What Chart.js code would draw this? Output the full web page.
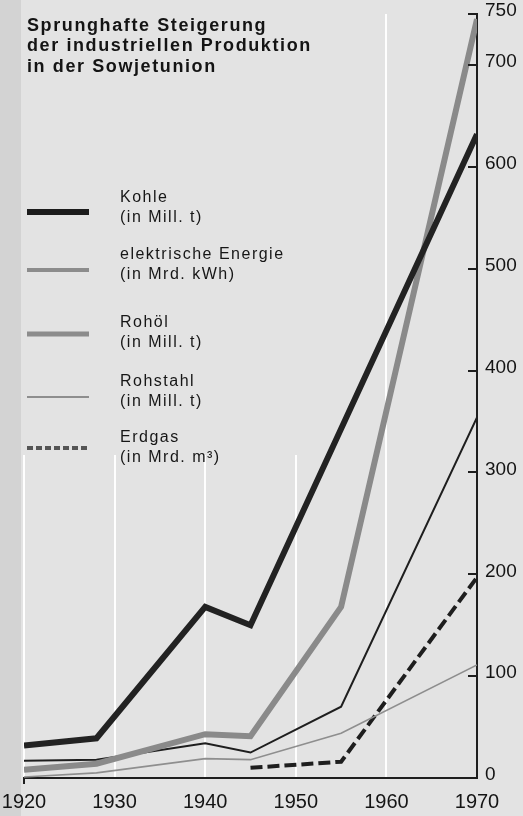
<!DOCTYPE html>
<html>
<head>
<meta charset="utf-8">
<script src="https://cdn.jsdelivr.net/npm/chart.js@4"></script>
<style>
  html, body { margin: 0; padding: 0; background: #e3e3e3; }
  canvas { display: block; }
</style>
</head>
<body>
<canvas id="c" width="523" height="816"></canvas>
<script>
// ---- data ----
const titleLines = ['Sprunghafte Steigerung', 'der industriellen Produktion', 'in der Sowjetunion'];
const seriesNames = ['Kohle', 'elektrische Energie', 'Rohöl', 'Rohstahl', 'Erdgas'];
const seriesUnits = ['(in Mill. t)', '(in Mrd. kWh)', '(in Mill. t)', '(in Mill. t)', '(in Mrd. m³)'];
const yearsKohle = [1920, 1928, 1940, 1945, 1970];
const kohle = [32, 39, 168, 150, 632];
const yearsMain = [1920, 1928, 1940, 1945, 1955, 1970];
const energie = [8, 14, 43, 41, 168, 745];
const rohoel = [17, 18, 34, 25, 70, 354];
const rohstahl = [1, 5, 19, 18, 44, 111];
const yearsGas = [1945, 1955, 1970];
const erdgas = [10, 16, 197];
const yTickValues = [0, 100, 200, 300, 400, 500, 600, 700, 750];

// ---- styles ----
const INK = '#1e1e1e';
const GREY = '#8a8a8a';
const BG = '#e3e3e3';
const lineStyles = [
  { color: '#222222', width: 6, dash: [] },
  { color: GREY, width: 6, dash: [] },
  { color: INK, width: 2, dash: [] },
  { color: '#8e8e8e', width: 1.6, dash: [] },
  { color: INK, width: 4, dash: [12, 5] }
];
const legendStyles = [
  { color: '#1c1c1c', width: 6, dash: [] },
  { color: '#8c8c8c', width: 4, dash: [] },
  { color: '#8c8c8c', width: 5, dash: [] },
  { color: '#8e8e8e', width: 2, dash: [] },
  { color: '#555555', width: 4, dash: [6, 3] }
];
const legendRows = [
  { swatch: 212, text: 198 },
  { swatch: 270, text: 255 },
  { swatch: 334, text: 323 },
  { swatch: 397, text: 382 },
  { swatch: 448, text: 438 }
];

function pts(xs, ys) { return xs.map((x, i) => ({ x: x, y: ys[i] })); }
const seriesData = [
  pts(yearsKohle, kohle),
  pts(yearsMain, energie),
  pts(yearsMain, rohoel),
  pts(yearsMain, rohstahl),
  pts(yearsGas, erdgas)
];

const datasets = seriesNames.map((name, i) => ({
  label: name,
  data: seriesData[i],
  borderColor: lineStyles[i].color,
  borderWidth: lineStyles[i].width,
  borderDash: lineStyles[i].dash,
  borderCapStyle: 'butt',
  borderJoinStyle: 'miter',
  pointRadius: 0,
  tension: 0,
  fill: false
}));

const backgroundPlugin = {
  id: 'paper',
  beforeDraw(chart) {
    const ctx = chart.ctx;
    ctx.save();
    ctx.fillStyle = BG;
    ctx.fillRect(0, 0, chart.width, chart.height);
    ctx.fillStyle = '#d3d3d3';
    ctx.fillRect(0, 0, 21, chart.height);
    ctx.restore();
  },
  beforeDatasetsDraw(chart) {
    // blurred panel behind title and legend (covers grid lines)
    const ctx = chart.ctx;
    ctx.save();
    ctx.fillStyle = BG;
    ctx.fillRect(21, 0, 301, 455);
    ctx.restore();
  }
};

const overlayPlugin = {
  id: 'overlay',
  afterDraw(chart) {
    const ctx = chart.ctx;
    const ys = chart.scales.y;
    const xs = chart.scales.x;
    const area = chart.chartArea;
    ctx.save();
    // inward tick marks on the right axis
    ctx.strokeStyle = INK;
    ctx.lineWidth = 2;
    ys.ticks.forEach(t => {
      const y = Math.round(ys.getPixelForValue(t.value));
      ctx.beginPath();
      ctx.moveTo(area.right - 9, y);
      ctx.lineTo(area.right, y);
      ctx.stroke();
    });
    // small tick below the axis at the first year
    const x0 = xs.getPixelForValue(xs.min);
    ctx.beginPath();
    ctx.moveTo(x0, area.bottom);
    ctx.lineTo(x0, area.bottom + 6);
    ctx.stroke();
    // title
    ctx.fillStyle = '#141414';
    ctx.textBaseline = 'middle';
    ctx.textAlign = 'left';
    ctx.font = 'bold 18px "Liberation Sans", Arial, sans-serif';
    if ('letterSpacing' in ctx) ctx.letterSpacing = '1.6px';
    titleLines.forEach((line, i) => ctx.fillText(line, 27, 26 + i * 20.5));
    // legend
    ctx.font = '16px "Liberation Sans", Arial, sans-serif';
    if ('letterSpacing' in ctx) ctx.letterSpacing = '1.5px';
    chart.data.datasets.forEach((ds, i) => {
      const st = legendStyles[i];
      const row = legendRows[i];
      ctx.strokeStyle = st.color;
      ctx.lineWidth = st.width;
      ctx.setLineDash(st.dash);
      ctx.beginPath();
      ctx.moveTo(27, row.swatch);
      ctx.lineTo(89, row.swatch);
      ctx.stroke();
      ctx.setLineDash([]);
      ctx.fillStyle = '#161616';
      ctx.fillText(ds.label, 120, row.text);
      ctx.fillText(seriesUnits[i], 120, row.text + 20);
    });
    ctx.restore();
  }
};

new Chart(document.getElementById('c'), {
  type: 'line',
  data: { datasets: datasets },
  plugins: [backgroundPlugin, overlayPlugin],
  options: {
    responsive: false,
    animation: false,
    layout: { padding: { left: 24, top: 14, right: 0, bottom: 0 } },
    plugins: { legend: { display: false }, title: { display: false }, tooltip: { enabled: false } },
    scales: {
      x: {
        type: 'linear',
        min: 1920,
        max: 1970,
        ticks: {
          stepSize: 10,
          padding: 12,
          color: '#141414',
          font: { family: '"Liberation Sans", Arial, sans-serif', size: 20 },
          callback: v => String(v),
          maxRotation: 0
        },
        grid: { color: 'rgba(255,255,255,0.95)', lineWidth: 2, drawTicks: false },
        border: { display: true, color: INK, width: 2 },
        afterFit(s) { s.height = 38; s.paddingLeft = 0; s.paddingRight = 0; }
      },
      y: {
        position: 'right',
        min: 0,
        max: 750,
        afterBuildTicks(s) { s.ticks = yTickValues.map(v => ({ value: v })); },
        ticks: {
          padding: 8,
          labelOffset: -3,
          color: '#141414',
          font: { family: '"Liberation Sans", Arial, sans-serif', size: 19 },
          callback: v => String(v)
        },
        grid: { drawOnChartArea: false, drawTicks: false },
        border: { display: true, color: INK, width: 2 },
        afterFit(s) { s.width = 46; s.paddingTop = 0; s.paddingBottom = 0; }
      }
    }
  }
});
</script>
</body>
</html>
